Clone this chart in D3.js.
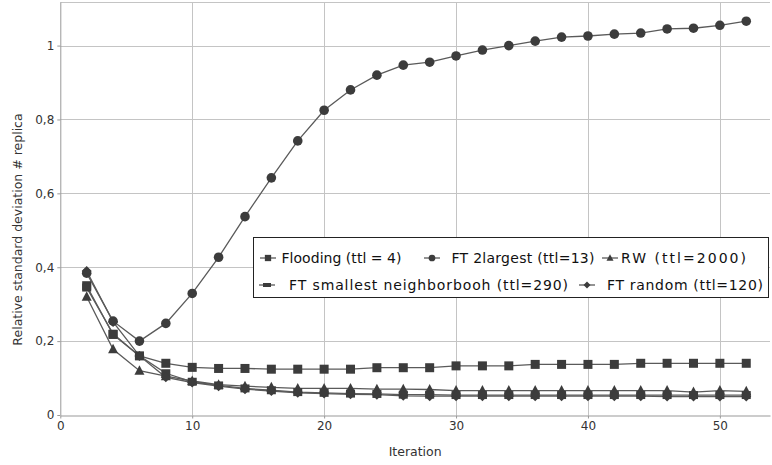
<!DOCTYPE html>
<html><head><meta charset="utf-8">
<script src="https://cdn.jsdelivr.net/npm/d3@7"></script>
<style>body{margin:0;background:#fff}svg{display:block;font-family:"DejaVu Sans",sans-serif}</style>
</head><body><svg id="c" width="772" height="465"></svg>
<script>
const iterations = [2,4,6,8,10,12,14,16,18,20,22,24,26,28,30,32,34,36,38,40,42,44,46,48,50,52];
const flooding = [0.35,0.218,0.16,0.14,0.129,0.126,0.126,0.124,0.124,0.124,0.124,0.128,0.128,0.128,0.133,0.133,0.133,0.137,0.137,0.137,0.137,0.14,0.14,0.14,0.14,0.14];
const ft2largest = [0.384,0.254,0.2,0.248,0.329,0.427,0.537,0.642,0.742,0.825,0.88,0.92,0.947,0.955,0.972,0.988,1.0,1.012,1.023,1.026,1.031,1.034,1.045,1.047,1.055,1.066];
const rw = [0.32,0.178,0.12,0.105,0.092,0.082,0.078,0.075,0.072,0.072,0.072,0.07,0.07,0.069,0.066,0.066,0.066,0.066,0.066,0.066,0.066,0.066,0.066,0.062,0.066,0.064];
const ftSmallest = [0.345,0.22,0.16,0.113,0.09,0.08,0.072,0.067,0.062,0.06,0.058,0.057,0.055,0.055,0.054,0.054,0.054,0.054,0.054,0.054,0.054,0.054,0.054,0.054,0.054,0.054];
const ftRandom = [0.39,0.252,0.16,0.102,0.088,0.078,0.07,0.065,0.06,0.058,0.056,0.055,0.052,0.051,0.051,0.051,0.051,0.051,0.051,0.051,0.051,0.051,0.05,0.05,0.05,0.05];
const seriesNames = ["Flooding (ttl = 4)","FT 2largest (ttl=13)","RW (ttl=2000)","FT smallest neighborbooh (ttl=290)","FT random (ttl=120)"];
const xTicks = [0,10,20,30,40,50];
const yTicks = [0,0.2,0.4,0.6,0.8,1];
const yTickLabels = ["0","0,2","0,4","0,6","0,8","1"];
const xTitle = "Iteration";
const yTitle = "Relative standard deviation # replica";

const series = [
  {name: seriesNames[0], values: flooding, shape: "square"},
  {name: seriesNames[1], values: ft2largest, shape: "circle"},
  {name: seriesNames[2], values: rw, shape: "triangle"},
  {name: seriesNames[3], values: ftSmallest, shape: "rect"},
  {name: seriesNames[4], values: ftRandom, shape: "diamond"}
];

const svg = d3.select("#c");
const L = 60.3, R = 770, T = 2, B = 415;
const x = d3.scaleLinear().domain([0, 53.8]).range([L, R]);
const y = d3.scaleLinear().domain([0, 1.118]).range([B, T]);

const gridC = "#c4c4c4";
svg.append("g").selectAll("line").data(yTicks.slice(1)).join("line")
  .attr("x1", L).attr("x2", R).attr("y1", d => Math.round(y(d))+0.5).attr("y2", d => Math.round(y(d))+0.5)
  .attr("stroke", gridC).attr("stroke-width", 1);
svg.append("g").selectAll("line").data(xTicks.slice(1)).join("line")
  .attr("y1", T).attr("y2", B).attr("x1", d => Math.round(x(d))+0.5).attr("x2", d => Math.round(x(d))+0.5)
  .attr("stroke", gridC).attr("stroke-width", 1);
svg.append("line").attr("x1", L).attr("x2", R).attr("y1", T+0.5).attr("y2", T+0.5).attr("stroke", gridC);

const xAxis = d3.axisBottom(x).tickValues(xTicks).tickFormat(d3.format("d")).tickSizeInner(3).tickSizeOuter(0).tickPadding(3);
const gx = svg.append("g").attr("transform", `translate(0,${B+0.5})`).call(xAxis);
const yAxis = d3.axisLeft(y).tickValues(yTicks).tickFormat((d,i) => yTickLabels[i]).tickSizeInner(3).tickSizeOuter(0).tickPadding(3);
const gy = svg.append("g").attr("transform", `translate(${L},0)`).call(yAxis);
[gx, gy].forEach(g => {
  g.select(".domain").attr("stroke", "#999");
  g.selectAll(".tick line").attr("stroke", "#999");
  g.selectAll("text").attr("fill", "#333").style("font-family", "DejaVu Sans").style("font-size", "12px");
});

svg.append("text").attr("x", (L+R)/2).attr("y", 456).attr("text-anchor", "middle")
  .attr("fill", "#333").style("font-size", "12.5px").text(xTitle);
svg.append("text").attr("transform", `translate(22,${(T+B)/2+21}) rotate(-90)`).attr("text-anchor", "middle")
  .attr("fill", "#333").style("font-size", "12.5px").text(yTitle);

const markC = "#3c3c3c", lineC = "#5a5a5a";
function marker(g, shape, cx, cy, s) {
  if (shape === "square") g.append("rect").attr("x", cx - 4.5*s).attr("y", cy - 4.5*s).attr("width", 9*s).attr("height", 9*s).attr("fill", markC);
  else if (shape === "circle") g.append("circle").attr("cx", cx).attr("cy", cy).attr("r", 4.8*s).attr("fill", markC);
  else if (shape === "triangle") g.append("path").attr("d", `M${cx},${cy-5.5*s}L${cx+5*s},${cy+4*s}L${cx-5*s},${cy+4*s}Z`).attr("fill", markC);
  else if (shape === "rect") g.append("rect").attr("x", cx - 4.5*s).attr("y", cy - 4*s).attr("width", 9*s).attr("height", 8*s).attr("fill", markC);
  else if (shape === "legendRect") g.append("rect").attr("x", cx - 4).attr("y", cy - 2).attr("width", 8).attr("height", 4).attr("fill", markC);
  else if (shape === "diamond") g.append("path").attr("d", `M${cx},${cy-5*s}L${cx+5*s},${cy}L${cx},${cy+5*s}L${cx-5*s},${cy}Z`).attr("fill", markC);
}

const line = d3.line().x((d,i) => x(iterations[i])).y(d => y(d));
const plot = svg.append("g");
series.forEach(s => {
  plot.append("path").attr("d", line(s.values)).attr("fill", "none").attr("stroke", lineC).attr("stroke-width", 1.3);
});
series.forEach(s => {
  const g = plot.append("g");
  s.values.forEach((v,i) => marker(g, s.shape, x(iterations[i]), y(v), 1));
});

const lg = svg.append("g");
lg.append("rect").attr("x", 253.5).attr("y", 237.5).attr("width", 515).attr("height", 60)
  .attr("fill", "#fff").attr("stroke", "#222").attr("stroke-width", 1);
const legendPos = [
  {mx: 268, tx: 281.5, ty: 258, w: 120},
  {mx: 432, tx: 451.5, ty: 258, w: 143},
  {mx: 610, tx: 621, ty: 258, w: 125},
  {mx: 267, tx: 289, ty: 285, w: 279},
  {mx: 587, tx: 607, ty: 285, w: 156}
];
series.forEach((s, i) => {
  const p = legendPos[i];
  lg.append("line").attr("x1", p.mx - 8).attr("x2", p.mx + 8).attr("y1", p.ty).attr("y2", p.ty).attr("stroke", lineC).attr("stroke-width", 1.3);
  marker(lg, s.shape === "rect" ? "legendRect" : s.shape, p.mx, p.ty, 0.7);
  lg.append("text").attr("x", p.tx).attr("y", p.ty + 5).attr("fill", "#111").style("font-size", "14px")
    .attr("textLength", p.w).attr("lengthAdjust", "spacing").text(s.name);
});
</script></body></html>
